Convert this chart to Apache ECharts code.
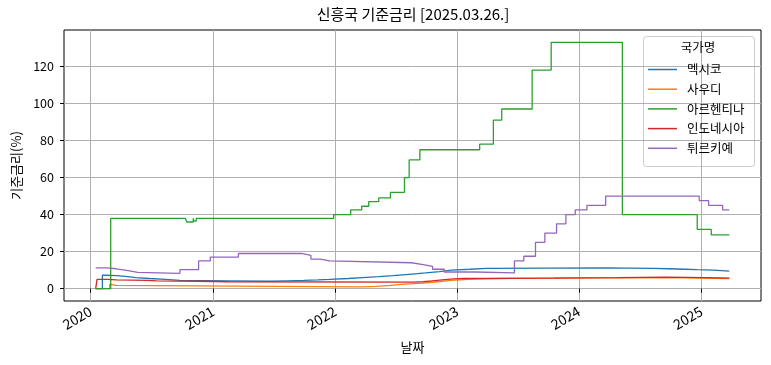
<!DOCTYPE html>
<html><head><meta charset="utf-8">
<script src="https://cdn.jsdelivr.net/npm/echarts@6/dist/echarts.min.js"></script>
<style>html,body{margin:0;padding:0;background:#fff}#c{width:771px;height:365px}</style>
</head><body><div id="c"></div>
<script>
const FONT = '"Noto Sans CJK KR", "Noto Sans", sans-serif';
const chartTitle = '신흥국 기준금리 [2025.03.26.]';
const legendTitle = '국가명';
const xName = '날짜';
const yName = '기준금리(%)';
const seriesNames = ['멕시코', '사우디', '아르헨티나', '인도네시아', '튀르키예'];
const colors = ['#1f77b4', '#ff7f0e', '#2ca02c', '#d62728', '#9467bd'];
const yTicks = [0, 20, 40, 60, 80, 100, 120];
const xTickYears = [2020, 2021, 2022, 2023, 2024, 2025];
const startDate = '2020-01-16';
const endDate = '2025-03-26';

// [change date, new rate] (step series)
const mexico = [
  ['2020-01-16', 0], ['2020-02-05', 7.25], ['2020-02-13', 7.0], ['2020-03-20', 6.5], ['2020-04-21', 6.0],
  ['2020-05-14', 5.5], ['2020-06-25', 5.0], ['2020-08-13', 4.5], ['2020-09-24', 4.25], ['2021-02-11', 4.0],
  ['2021-06-24', 4.25], ['2021-08-12', 4.5], ['2021-09-30', 4.75], ['2021-11-11', 5.0], ['2021-12-16', 5.5],
  ['2022-02-10', 6.0], ['2022-03-24', 6.5], ['2022-05-12', 7.0], ['2022-06-23', 7.75], ['2022-08-11', 8.5],
  ['2022-09-29', 9.25], ['2022-11-10', 10.0], ['2022-12-15', 10.5], ['2023-02-09', 11.0], ['2023-03-30', 11.25],
  ['2024-03-21', 11.0], ['2024-08-08', 10.75], ['2024-09-26', 10.5], ['2024-11-14', 10.25], ['2024-12-19', 10.0],
  ['2025-02-06', 9.5], ['2025-03-26', 9.5]
];
const saudi = [
  ['2020-01-16', 0], ['2020-02-27', 2.25], ['2020-03-04', 1.75], ['2020-03-16', 1.0], ['2022-03-17', 1.25],
  ['2022-05-05', 1.75], ['2022-06-16', 2.5], ['2022-07-28', 3.0], ['2022-09-22', 3.75], ['2022-11-03', 4.5],
  ['2022-12-15', 5.0], ['2023-02-02', 5.25], ['2023-03-23', 5.5], ['2023-05-04', 5.75], ['2023-07-27', 6.0],
  ['2024-09-19', 5.5], ['2025-03-26', 5.5]
];
const argentina = [
  ['2020-01-16', 0], ['2020-03-01', 38], ['2020-10-10', 37], ['2020-10-15', 36], ['2020-11-03', 38],
  ['2020-11-05', 36.5], ['2020-11-12', 38], ['2021-12-28', 40], ['2022-02-17', 42.5], ['2022-03-22', 44.5],
  ['2022-04-12', 47], ['2022-05-12', 49], ['2022-06-16', 52], ['2022-07-28', 60], ['2022-08-11', 69.5],
  ['2022-09-12', 75], ['2023-03-10', 78], ['2023-04-20', 91], ['2023-05-15', 97], ['2023-08-14', 118],
  ['2023-10-10', 133], ['2024-05-10', 40], ['2024-12-20', 32], ['2025-01-31', 29], ['2025-03-26', 29]
];
const indonesia = [
  ['2020-01-16', 0], ['2020-01-20', 5.0], ['2020-02-20', 4.75], ['2020-03-19', 4.5], ['2020-06-18', 4.25],
  ['2020-07-16', 4.0], ['2020-11-19', 3.75], ['2021-02-18', 3.5], ['2022-08-23', 3.75], ['2022-09-22', 4.25],
  ['2022-10-20', 4.75], ['2022-11-17', 5.25], ['2022-12-22', 5.5], ['2023-01-19', 5.75], ['2023-10-19', 6.0],
  ['2024-04-24', 6.25], ['2024-09-18', 6.0], ['2025-01-15', 5.75], ['2025-03-26', 5.75]
];
const turkiye = [
  ['2020-01-16', 11.25], ['2020-02-19', 10.75], ['2020-03-17', 9.75], ['2020-04-22', 8.75], ['2020-05-21', 8.25],
  ['2020-09-24', 10.25], ['2020-11-19', 15], ['2020-12-24', 17], ['2021-03-18', 19], ['2021-09-23', 18],
  ['2021-10-21', 16], ['2021-11-18', 15], ['2021-12-16', 14], ['2022-08-18', 13], ['2022-09-22', 12],
  ['2022-10-20', 10.5], ['2022-11-24', 9], ['2023-02-23', 8.5], ['2023-06-22', 15], ['2023-07-20', 17.5],
  ['2023-08-24', 25], ['2023-09-21', 30], ['2023-10-26', 35], ['2023-11-23', 40], ['2023-12-21', 42.5],
  ['2024-01-25', 45], ['2024-03-21', 50], ['2024-12-26', 47.5], ['2025-01-23', 45], ['2025-03-06', 42.5],
  ['2025-03-26', 42.5]
];
const seriesData = [mexico, saudi, argentina, indonesia, turkiye];

function ts(s) { const p = s.split('-').map(Number); return Date.UTC(p[0], p[1] - 1, p[2]); }
const span = ts(endDate) - ts(startDate);
const xMin = ts(startDate) - 0.05 * span;
const xMax = ts(endDate) + 0.05 * span;
const allVals = [].concat(...seriesData.map(d => d.map(p => p[1])));
const vMax = Math.max(...allVals), vMin = Math.min(...allVals);
const yMin = vMin - 0.05 * (vMax - vMin), yMax = vMax + 0.05 * (vMax - vMin);
const xTicks = xTickYears.map(y => Date.UTC(y, 0, 1));

const chart = echarts.init(document.getElementById('c'), null, { renderer: 'canvas' });
chart.setOption({
  animation: false,
  backgroundColor: '#fff',
  textStyle: { fontFamily: FONT },
  title: {
    text: chartTitle, left: 408, top: 2, textAlign: 'center',
    textStyle: { fontFamily: FONT, fontSize: 15, fontWeight: 'normal', color: '#000' }
  },
  grid: { left: 64, right: 10, top: 30, bottom: 64, show: true, borderColor: '#000', borderWidth: 1, backgroundColor: 'transparent' },
  xAxis: {
    type: 'value', min: xMin, max: xMax, scale: true,
    name: xName, nameLocation: 'middle', nameGap: 40,
    nameTextStyle: { fontFamily: FONT, fontSize: 13, color: '#000' },
    axisLine: { show: false },
    axisTick: { show: true, length: 4, lineStyle: { color: '#000' }, customValues: xTicks },
    axisLabel: {
      customValues: xTicks, rotate: 30, margin: 9, fontSize: 14, color: '#000', fontFamily: FONT,
      formatter: v => String(new Date(v).getUTCFullYear())
    },
    splitLine: { show: true, lineStyle: { color: '#b0b0b0', width: 1 } }
  },
  yAxis: {
    type: 'value', min: yMin, max: yMax,
    name: yName, nameLocation: 'middle', nameGap: 41,
    nameTextStyle: { fontFamily: FONT, fontSize: 13, color: '#000' },
    axisLine: { show: false },
    axisTick: { show: true, length: 4, lineStyle: { color: '#000' }, customValues: yTicks },
    axisLabel: { customValues: yTicks, margin: 10, fontSize: 12.5, color: '#000', fontFamily: FONT },
    splitLine: { show: true, lineStyle: { color: '#b0b0b0', width: 1 } }
  },
  legend: {
    data: seriesNames, orient: 'vertical', left: 643, top: 57, icon: 'rect',
    padding: [5, 5, 5, 5],
    itemWidth: 29, itemHeight: 1.5, itemGap: 4.7,
    textStyle: { fontFamily: FONT, fontSize: 12.5, color: '#000', lineHeight: 15, padding: [0, 0, 0, 5] }
  },
  graphic: [
    { type: 'rect', left: 643, top: 36, z: -1,
      shape: { width: 111, height: 130, r: 3 },
      style: { fill: 'rgba(255,255,255,0.8)', stroke: '#cccccc', lineWidth: 1 } },
    { type: 'text', x: 698, y: 47, z: 10,
      style: { text: legendTitle, textAlign: 'center', textVerticalAlign: 'middle', fill: '#000', font: '12.5px ' + FONT } }
  ],
  series: seriesNames.map((n, i) => ({
    name: n, type: 'line', step: 'end', showSymbol: false, symbol: 'none',
    color: colors[i],
    lineStyle: { width: 1.3, color: colors[i] },
    data: seriesData[i].map(p => [ts(p[0]), p[1]])
  }))
});
</script></body></html>
